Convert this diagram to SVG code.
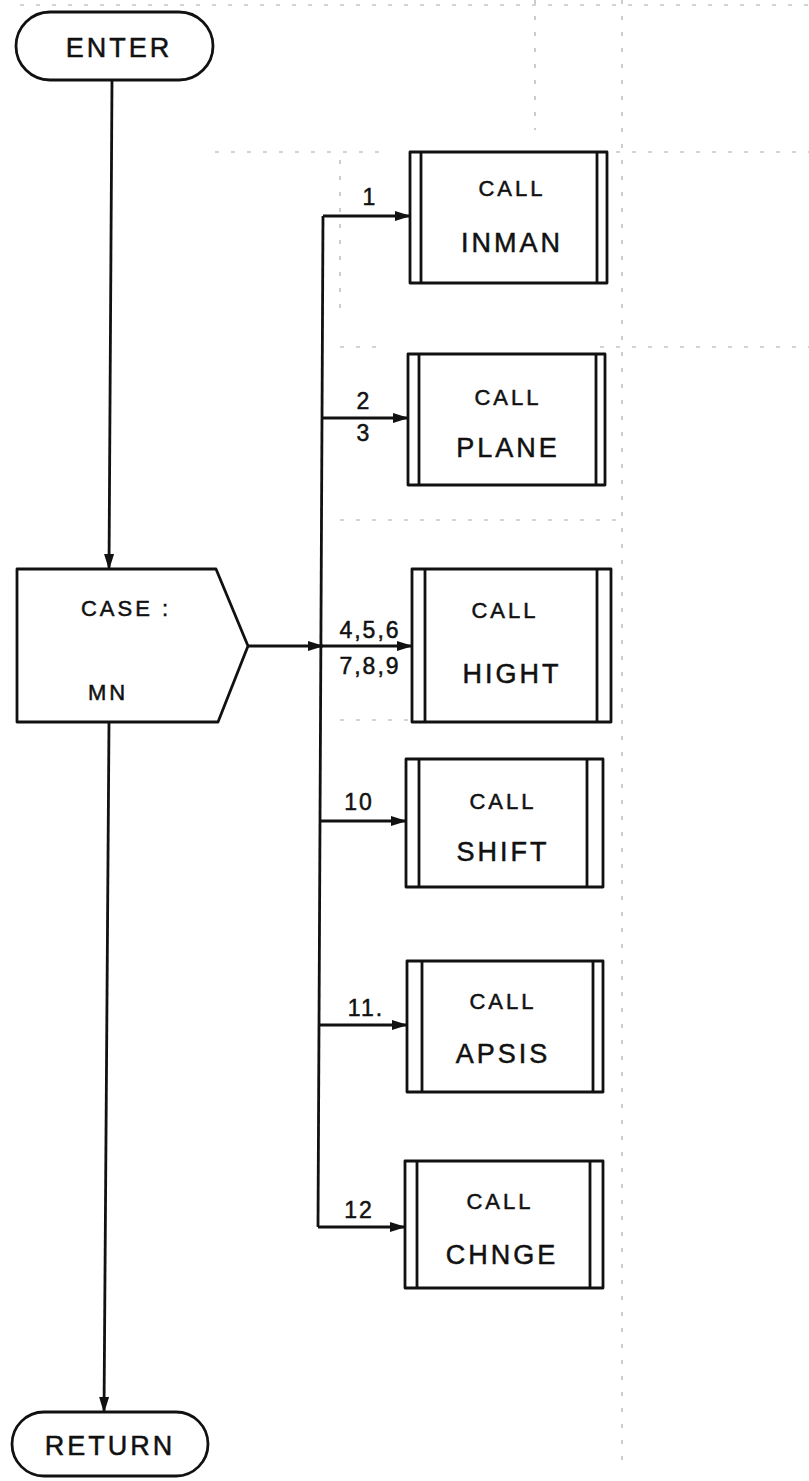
<svg xmlns="http://www.w3.org/2000/svg" width="809" height="1481" viewBox="0 0 809 1481">
<style>
.s{fill:#fff;stroke:#111;stroke-width:2.8;stroke-linejoin:round}
.l{fill:none;stroke:#111;stroke-width:2.8}
.t{font-family:"Liberation Sans",Arial,sans-serif;fill:#111;text-anchor:middle;letter-spacing:3px;stroke:#111;stroke-width:0.5}
.big{font-size:27px}
.sm{font-size:22px}
.lb{font-family:"Liberation Sans",Arial,sans-serif;fill:#111;font-size:23px;letter-spacing:2px;text-anchor:middle;stroke:#111;stroke-width:0.5}
.g{fill:none;stroke:#aaa;stroke-width:1.2;stroke-dasharray:4 12}
</style>
<defs>
<marker id="ah" markerWidth="16" markerHeight="12" refX="15" refY="6" orient="auto" markerUnits="userSpaceOnUse">
<path d="M0,1 L16,6 L0,11 Z" fill="#111"/>
</marker>
</defs>
<g id="grid">
<path class="g" d="M20,5 H809"/>
<path class="g" d="M535,0 V130"/>
<path class="g" d="M622,0 V1470"/>
<path class="g" d="M215,152 H380 M600,152 H809"/>
<path class="g" d="M340,347 H380 M600,347 H809"/>
<path class="g" d="M340,520 H620"/>
<path class="g" d="M340,720 H410"/>
<path class="g" d="M340,160 V320"/>
</g>
<g id="connectors">
<path class="l" d="M112,80 L109,569" marker-end="url(#ah)"/>
<path class="l" d="M109,722 L104,1412" marker-end="url(#ah)"/>
<path class="l" d="M248,646 L323,646" marker-end="url(#ah)"/>
<path class="l" d="M323,216 L318,1227"/>
<path class="l" d="M323,216 L410,216" marker-end="url(#ah)"/>
<path class="l" d="M322,418 L408,418" marker-end="url(#ah)"/>
<path class="l" d="M321,646 L412,646" marker-end="url(#ah)"/>
<path class="l" d="M320,821 L406,821" marker-end="url(#ah)"/>
<path class="l" d="M319,1025 L407,1025" marker-end="url(#ah)"/>
<path class="l" d="M318,1227 L405,1227" marker-end="url(#ah)"/>
<text class="lb" x="370" y="205">1</text>
<text class="lb" x="364" y="409">2</text>
<text class="lb" x="364" y="441">3</text>
<text class="lb" x="370" y="638">4,5,6</text>
<text class="lb" x="370" y="674">7,8,9</text>
<text class="lb" x="359" y="810">10</text>
<text class="lb" x="366" y="1016">11.</text>
<text class="lb" x="359" y="1218">12</text>
</g>
<g id="enter">
<rect class="s" x="16" y="12" width="197" height="68" rx="34"/>
<text class="t big" x="119" y="57">ENTER</text>
</g>
<g id="case">
<path class="s" d="M17,569 H216 L248,646 L218,722 H17 Z"/>
<text class="t sm" x="126" y="616">CASE :</text>
<text class="t sm" x="108" y="700">MN</text>
</g>
<g id="inman">
<rect class="s" x="410" y="152" width="197" height="131"/>
<path class="l" d="M421,152 V283 M597,152 V283"/>
<text class="t sm" x="512" y="196">CALL</text>
<text class="t big" x="512" y="252">INMAN</text>
</g>
<g id="plane">
<rect class="s" x="408" y="354" width="197" height="131"/>
<path class="l" d="M419,354 V485 M596,354 V485"/>
<text class="t sm" x="508" y="405">CALL</text>
<text class="t big" x="508" y="457">PLANE</text>
</g>
<g id="hight">
<rect class="s" x="412" y="569" width="199" height="153"/>
<path class="l" d="M425,569 V722 M597,569 V722"/>
<text class="t sm" x="505" y="618">CALL</text>
<text class="t big" x="512" y="683">HIGHT</text>
</g>
<g id="shift">
<rect class="s" x="406" y="759" width="197" height="128"/>
<path class="l" d="M419,759 V887 M587,759 V887"/>
<text class="t sm" x="503" y="809">CALL</text>
<text class="t big" x="503" y="861">SHIFT</text>
</g>
<g id="apsis">
<rect class="s" x="407" y="961" width="196" height="131"/>
<path class="l" d="M422,961 V1092 M593,961 V1092"/>
<text class="t sm" x="503" y="1009">CALL</text>
<text class="t big" x="503" y="1063">APSIS</text>
</g>
<g id="chnge">
<rect class="s" x="405" y="1161" width="198" height="127"/>
<path class="l" d="M417,1161 V1288 M590,1161 V1288"/>
<text class="t sm" x="500" y="1209">CALL</text>
<text class="t big" x="502" y="1264">CHNGE</text>
</g>
<g id="return">
<rect class="s" x="12" y="1412" width="196" height="64" rx="32"/>
<text class="t big" x="110" y="1455">RETURN</text>
</g>
</svg>
